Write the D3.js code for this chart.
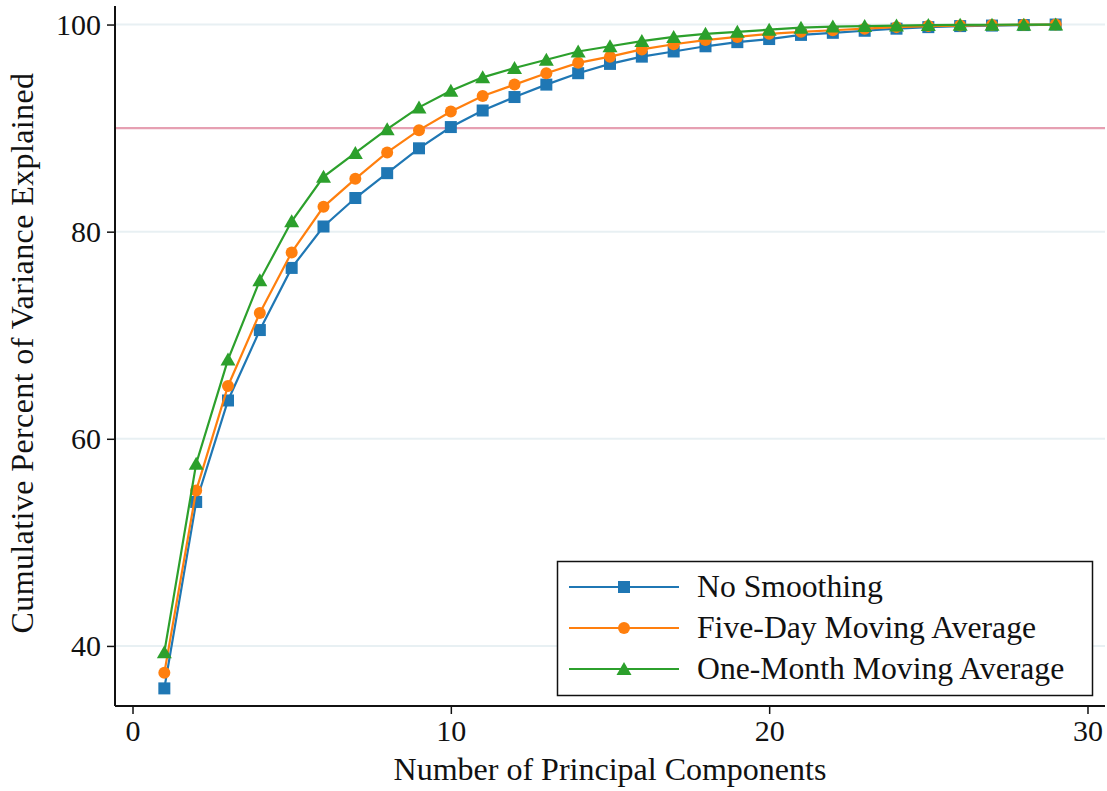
<!DOCTYPE html>
<html>
<head>
<meta charset="utf-8">
<script src="https://cdn.jsdelivr.net/npm/d3@7"></script>
<style>
  html, body { margin: 0; padding: 0; background: #fff; }
  text { font-family: "Liberation Serif", "Times New Roman", serif; fill: #111; }
</style>
</head>
<body>
<div id="root"></div>
<script>
const w = 1107;
const h = 791;

const components = [1, 2, 3, 4, 5, 6, 7, 8, 9, 10, 11, 12, 13, 14, 15, 16, 17, 18, 19, 20, 21, 22, 23, 24, 25, 26, 27, 28, 29];
const noSmoothing = [35.9, 53.9, 63.7, 70.5, 76.5, 80.5, 83.25, 85.65, 88.05, 90.1, 91.7, 93.0, 94.2, 95.3, 96.2, 96.9, 97.4, 97.9, 98.3, 98.6, 99.0, 99.2, 99.4, 99.6, 99.75, 99.85, 99.9, 99.95, 100];
const fiveDay = [37.4, 55.0, 65.1, 72.15, 78.0, 82.4, 85.1, 87.65, 89.8, 91.6, 93.1, 94.2, 95.3, 96.3, 96.9, 97.6, 98.1, 98.5, 98.8, 99.1, 99.3, 99.45, 99.6, 99.75, 99.85, 99.9, 99.95, 99.98, 100];
const oneMonth = [39.4, 57.6, 67.65, 75.3, 81.0, 85.3, 87.6, 89.9, 92.0, 93.6, 94.9, 95.8, 96.6, 97.4, 97.9, 98.4, 98.8, 99.1, 99.3, 99.5, 99.7, 99.8, 99.85, 99.9, 99.95, 99.97, 99.98, 99.99, 100];
const seriesNames = ["No Smoothing", "Five-Day Moving Average", "One-Month Moving Average"];
const xTicks = [0, 10, 20, 30];
const yTicks = [40, 60, 80, 100];
const threshold = 90;

const colors = ["#1f77b4", "#ff7f0e", "#2ca02c"];
const markers = ["square", "circle", "triangle"];

const padLeft = 115, padRight = 1105, padTop = 6, padBottom = 706;

const svg = d3.select("#root").append("svg").attr("width", w).attr("height", h);

const x = d3.scaleLinear().domain([-0.55, 30.55]).range([padLeft, padRight]);
const y = d3.scaleLinear().domain([34.2, 101.79]).range([padBottom, padTop]);

// grid
svg.append("g")
  .selectAll("line")
  .data(yTicks)
  .join("line")
  .attr("x1", padLeft)
  .attr("x2", padRight)
  .attr("y1", (d) => y(d))
  .attr("y2", (d) => y(d))
  .attr("stroke", "#e8f0f3")
  .attr("stroke-width", 2);

// 90% line
svg.append("line")
  .attr("x1", padLeft)
  .attr("x2", padRight)
  .attr("y1", y(threshold))
  .attr("y2", y(threshold))
  .attr("stroke", "#e6a0b2")
  .attr("stroke-width", 2.4);

function drawMarker(g, type, cx, cy, color) {
  if (type === "square") {
    g.append("rect")
      .attr("x", cx - 6).attr("y", cy - 6)
      .attr("width", 12).attr("height", 12)
      .attr("fill", color);
  } else if (type === "circle") {
    g.append("circle").attr("cx", cx).attr("cy", cy).attr("r", 6).attr("fill", color);
  } else {
    g.append("path")
      .attr("d", `M${cx},${cy - 7}L${cx + 7.5},${cy + 6}L${cx - 7.5},${cy + 6}Z`)
      .attr("fill", color);
  }
}

const allSeries = [noSmoothing, fiveDay, oneMonth];
const line = d3.line().x((d) => x(d[0])).y((d) => y(d[1]));

allSeries.forEach((vals, k) => {
  const pts = components.map((c, i) => [c, vals[i]]);
  const g = svg.append("g");
  g.append("path")
    .attr("d", line(pts))
    .attr("fill", "none")
    .attr("stroke", colors[k])
    .attr("stroke-width", 2.2);
  pts.forEach((p) => drawMarker(g, markers[k], x(p[0]), y(p[1]), colors[k]));
});

// axes
const xAxis = d3.axisBottom(x).tickValues(xTicks).tickSize(8).tickPadding(6);
const gx = svg.append("g").attr("transform", `translate(0,${padBottom})`).call(xAxis);
gx.select(".domain").attr("d", `M${padLeft},0H${padRight}`).attr("stroke", "#111").attr("stroke-width", 2);
gx.selectAll(".tick line").attr("stroke", "#111").attr("stroke-width", 1.5);
gx.selectAll(".tick text").attr("font-size", 30).attr("font-family", "Liberation Serif").attr("fill", "#111");

const yAxis = d3.axisLeft(y).tickValues(yTicks).tickSize(8).tickPadding(6);
const gy = svg.append("g").attr("transform", `translate(${padLeft},0)`).call(yAxis);
gy.select(".domain").attr("d", `M0,${padTop}V${padBottom}`).attr("stroke", "#111").attr("stroke-width", 2);
gy.selectAll(".tick line").attr("stroke", "#111").attr("stroke-width", 1.5);
gy.selectAll(".tick text").attr("font-size", 30).attr("font-family", "Liberation Serif").attr("fill", "#111");

svg.append("text")
  .attr("x", 610)
  .attr("y", 780)
  .attr("text-anchor", "middle")
  .attr("font-size", 32)
  .text("Number of Principal Components");

svg.append("text")
  .attr("transform", `translate(33, 353) rotate(-90)`)
  .attr("text-anchor", "middle")
  .attr("font-size", 32)
  .attr("letter-spacing", 0.4)
  .text("Cumulative Percent of Variance Explained");

// legend
const legend = svg.append("g");
legend.append("rect")
  .attr("x", 557.5).attr("y", 561.5)
  .attr("width", 535).attr("height", 134)
  .attr("fill", "#fff")
  .attr("stroke", "#111")
  .attr("stroke-width", 1.5);

const rowY = [587, 628, 669];
seriesNames.forEach((name, k) => {
  const g = legend.append("g");
  g.append("line")
    .attr("x1", 569).attr("x2", 679)
    .attr("y1", rowY[k]).attr("y2", rowY[k])
    .attr("stroke", colors[k]).attr("stroke-width", 2.2);
  drawMarker(g, markers[k], 624, rowY[k], colors[k]);
  g.append("text")
    .attr("x", 697)
    .attr("y", rowY[k] + 10)
    .attr("font-size", 31.7)
    .text(name);
});
</script>
</body>
</html>
